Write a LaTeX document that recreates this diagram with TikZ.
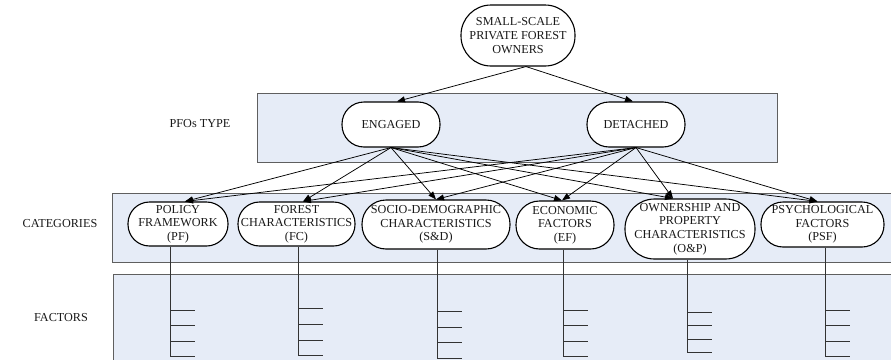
\documentclass[tikz,border=0pt]{standalone}
\usepackage{fontspec}
\setmainfont{Liberation Serif}
\usetikzlibrary{arrows.meta}
\definecolor{bandfill}{RGB}{230,236,247}
\definecolor{bandline}{RGB}{95,95,95}
\begin{document}
\begin{tikzpicture}[x=1pt,y=-1pt,
  every node/.style={font=\fontsize{12.2}{13.6}\selectfont, text=black!90},
  band/.style={fill=bandfill, draw=bandline, line width=0.9pt},
  pill/.style n args={3}{draw=black, fill=white, line width=1.1pt, align=center,
     inner sep=0pt, minimum width=#1, minimum height=#2, rounded corners=#3},
  arr/.style={-{Triangle[length=8pt,width=6pt]}, line width=0.75pt},
  tick/.style={line width=0.9pt, draw=black!80}]
\clip (0,0) rectangle (891,359);
% bands
\draw[band] (257,93) rectangle (777,162);
\draw[band] (112,193) rectangle (897,262);
\draw[band] (113,274) rectangle (897,366);
% labels
\node (lt) at (200,124) {PFOs TYPE};
\node (lc) at (60,224) {CATEGORIES};
\node (lf) at (61,318) {FACTORS};
% nodes
\node[pill={114}{61}{30}] (top) at (518,35.5) {SMALL-SCALE\\PRIVATE FOREST\\OWNERS};
\node[pill={98}{45}{22}] (eng) at (391,124.5) {ENGAGED};
\node[pill={98}{45}{22}] (det) at (636,124.5) {DETACHED};
\node[pill={100}{44}{21.5}] (pf) at (178,224) {POLICY\\FRAMEWORK\\(PF)};
\node[pill={117}{44}{21.5}] (fc) at (296.5,224) {FOREST\\CHARACTERISTICS\\(FC)};
\node[pill={148}{49}{24}] (sd) at (436,224.5) {SOCIO-DEMOGRAPHIC\\CHARACTERISTICS\\(S\&D)};
\node[pill={98}{48}{23.5}] (ef) at (565,225) {ECONOMIC\\FACTORS\\(EF)};
\node[pill={130}{60}{29.5}] (op) at (690,229) {OWNERSHIP AND\\PROPERTY\\CHARACTERISTICS\\(O\&P)};
\node[pill={123}{45}{22}] (psf) at (822.5,224.5) {PSYCHOLOGICAL\\FACTORS\\(PSF)};
% arrows top -> types
\draw[arr] ([xshift=8]top.south) -- ([xshift=6]eng.north);
\draw[arr] ([xshift=8]top.south) -- ([xshift=-3]det.north);
% arrows types -> categories
\foreach \s in {eng,det}{
  \draw[arr] (\s.south) -- ([xshift=7]pf.north);
  \draw[arr] (\s.south) -- ([xshift=6.5]fc.north);
  \draw[arr] (\s.south) -- ([xshift=0]sd.north);
  \draw[arr] (\s.south) -- ([xshift=-3]ef.north);
  \draw[arr] (\s.south) -- ([xshift=-17]op.north);
  \draw[arr] (\s.south) -- ([xshift=-5]psf.north);
}
% factor ticks
\foreach \n/\dx/\a/\b/\c/\d in {pf/-8/310/325/341/356, fc/1.5/308/324/340/355,
   sd/1/311/327/342/358, ef/-2/310/325/341/356, op/-3/312/325/339/352,
   psf/2.5/310/325/341/356}{
  \draw[tick] ([xshift=\dx]\n.south) -- ([xshift=\dx]\n.south |- 0,\d) -- ++(25,0);
  \draw[tick] ([xshift=\dx]\n.south |- 0,\a) -- ++(25,0);
  \draw[tick] ([xshift=\dx]\n.south |- 0,\b) -- ++(25,0);
  \draw[tick] ([xshift=\dx]\n.south |- 0,\c) -- ++(25,0);
}
\end{tikzpicture}
\end{document}
